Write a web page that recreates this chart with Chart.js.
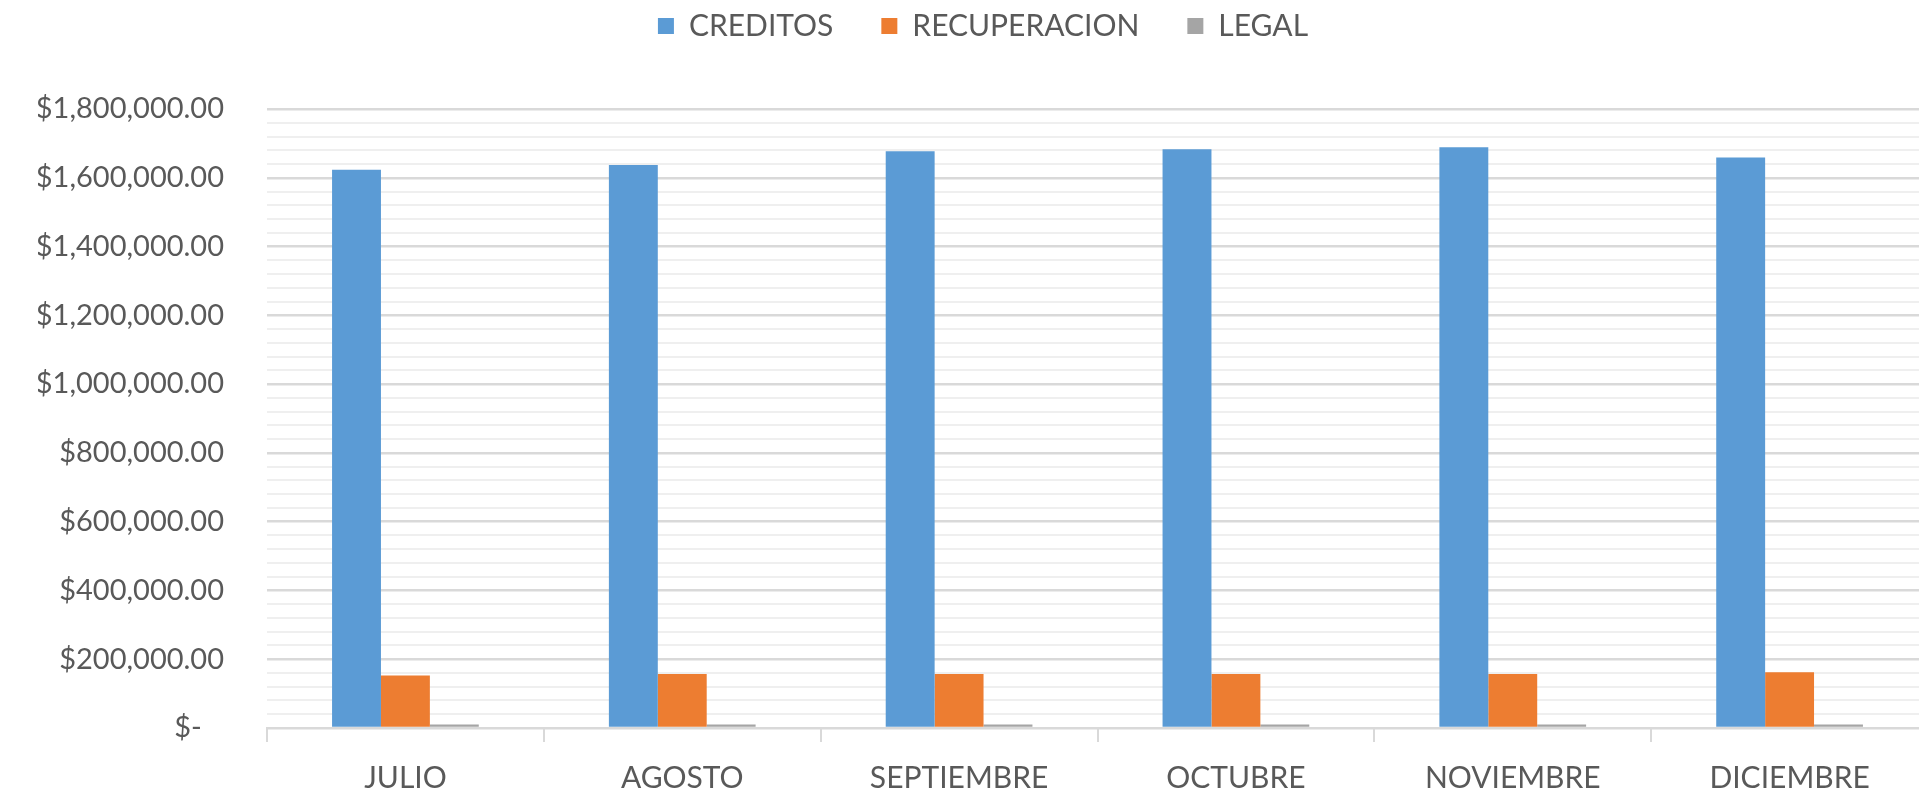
<!DOCTYPE html>
<html>
<head>
<meta charset="utf-8">
<script src="https://cdn.jsdelivr.net/npm/chart.js@4"></script>
<style>
  html, body { margin: 0; padding: 0; background: #fff; overflow: hidden; }
  #wrap { position: relative; width: 1928px; height: 796px; }
</style>
</head>
<body>
<div id="wrap"><canvas id="chart"></canvas></div>
<script>
const months = ["JULIO", "AGOSTO", "SEPTIEMBRE", "OCTUBRE", "NOVIEMBRE", "DICIEMBRE"];
const creditos = [1623000, 1637000, 1677000, 1683000, 1689000, 1659000];
const recuperacion = [153000, 157000, 157000, 157000, 157000, 162000];
const legal = [10000, 10000, 10000, 10000, 10000, 10000];

const textColor = "#595959";
const fontFamily = "Lato, 'Open Sans', sans-serif";

// legend sits high above the plot, so stretch its box to push the plot down
const legendSpacer = {
  id: "legendSpacer",
  beforeInit(chart) {
    const fit = chart.legend.fit;
    chart.legend.fit = function () {
      fit.call(this);
      this.height = 146;
    };
  },
};

const money = (v) =>
  v === 0
    ? "$-   "
    : "$" + v.toLocaleString("en-US", { minimumFractionDigits: 2, maximumFractionDigits: 2 });

new Chart(document.getElementById("chart"), {
  type: "bar",
  plugins: [legendSpacer],
  data: {
    labels: months,
    datasets: [
      { label: "CREDITOS", data: creditos, backgroundColor: "#5b9bd5" },
      { label: "RECUPERACION", data: recuperacion, backgroundColor: "#ed7d31" },
      { label: "LEGAL", data: legal, backgroundColor: "#a5a5a5" },
    ],
  },
  options: {
    responsive: true,
    maintainAspectRatio: false,
    animation: false,
    layout: { padding: { top: -37, left: 38, right: 0, bottom: 0 } },
    datasets: { bar: { categoryPercentage: 0.53, barPercentage: 1 } },
    plugins: {
      legend: {
        position: "top",
        labels: {
          boxWidth: 16,
          boxHeight: 16,
          padding: 48,
          color: textColor,
          font: { family: fontFamily, size: 30 },
        },
      },
      tooltip: { enabled: false },
    },
    scales: {
      x: {
        grid: {
          offset: true,
          drawOnChartArea: false,
          drawTicks: true,
          tickLength: 14,
          color: "#d9d9d9",
          lineWidth: 2,
        },
        border: { display: true, color: "#d9d9d9", width: 2 },
        ticks: {
          color: textColor,
          font: { family: fontFamily, size: 30 },
          padding: 18,
          maxRotation: 0,
        },
        afterFit(scale) {
          scale.height = 68;
        },
      },
      y: {
        min: 0,
        max: 1800000,
        border: { display: false },
        grid: {
          drawTicks: false,
          color: (ctx) => (ctx.tick && ctx.tick.value % 200000 === 0 ? "#d9d9d9" : "#efefef"),
          lineWidth: (ctx) => (ctx.tick && ctx.tick.value % 200000 === 0 ? 2.5 : 2),
        },
        ticks: {
          stepSize: 40000,
          autoSkip: false,
          padding: 43,
          color: textColor,
          font: { family: fontFamily, size: 29 },
          callback: (v) => (v % 200000 === 0 ? money(v) : ""),
        },
        afterFit(scale) {
          scale.width = 229;
        },
      },
    },
  },
});
</script>
</body>
</html>
